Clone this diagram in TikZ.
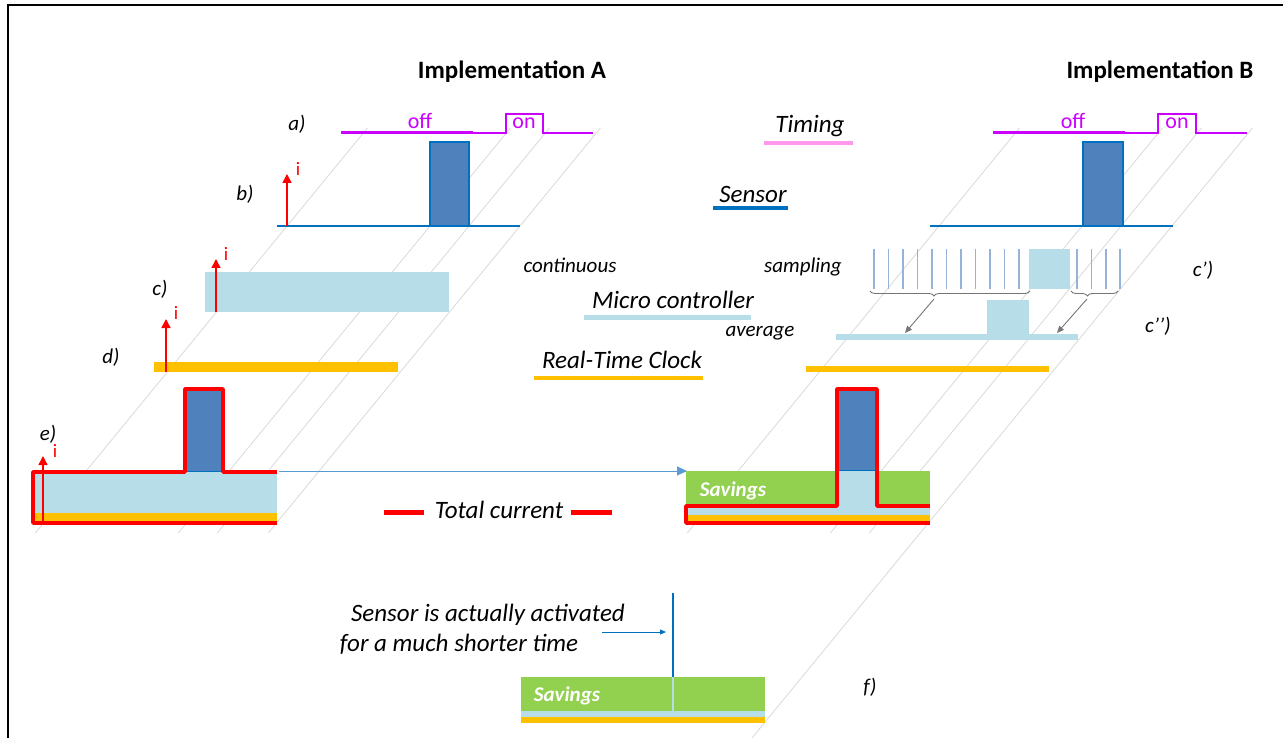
\documentclass[tikz,border=0pt]{standalone}
\usepackage{fontspec}
\setmainfont{Carlito}
\usetikzlibrary{arrows.meta,decorations.pathreplacing}

\definecolor{tmg}{RGB}{204,0,255}
\definecolor{tpink}{RGB}{255,153,238}
\definecolor{sblue}{RGB}{79,129,189}
\definecolor{sedge}{RGB}{0,112,192}
\definecolor{mcu}{RGB}{183,221,232}
\definecolor{rtc}{RGB}{255,192,0}
\definecolor{sav}{RGB}{146,208,80}
\definecolor{guide}{RGB}{217,217,217}
\definecolor{samp}{RGB}{149,179,215}
\definecolor{bracegray}{RGB}{118,118,118}
\definecolor{linkblue}{RGB}{91,155,213}

\tikzset{
  lbl/.style={inner sep=0pt, anchor=mid, yshift=-3pt, font=\fontsize{21}{21}\selectfont\itshape},
  legend/.style={inner sep=0pt, anchor=mid, yshift=-5pt, font=\fontsize{25}{25}\selectfont\itshape},
  head/.style={inner sep=0pt, anchor=mid, yshift=-5pt, font=\fontsize{25}{25}\selectfont\bfseries},
  note/.style={inner sep=0pt, anchor=mid, yshift=-5pt, font=\fontsize{25}{25}\selectfont\itshape},
  stateTxt/.style={inner sep=0pt, anchor=mid, yshift=-3pt, text=tmg, font=\fontsize{22}{22}\selectfont},
  curTxt/.style={inner sep=0pt, anchor=mid, yshift=-2pt, text=red, font=\fontsize{19}{19}\selectfont},
  savTxt/.style={inner sep=0pt, anchor=mid, yshift=-3pt, text=white, font=\fontsize{21}{21}\selectfont\bfseries\itshape},
  guideline/.style={guide, line width=0.8pt},
  curarrow/.style={red, line width=1.5pt, -{Triangle[length=9pt,width=9pt]}},
  redtotal/.style={red, line width=3.5pt, line join=round},
  sampline/.style={samp, line width=1.5pt},
  bracket/.style={bracegray, line width=0.9pt, decorate, decoration={brace, mirror, amplitude=5pt}},
  grayarrow/.style={bracegray, line width=0.9pt, -{Triangle[length=7pt,width=6pt]}},
}

\begin{document}
\begin{tikzpicture}[x=1pt,y=-1pt]
\useasboundingbox (0,0) rectangle (1283,738);

% frame
\draw[line width=2.5pt] (8,740) -- (8,5) -- (1285,5);

% diagonal guide lines of both implementations
\foreach \x in {287,430,469,520} {
  \draw[guideline] (\x+80.4,128) -- (\x-251.7,533);
}
\foreach \x in {939,1082,1121} {
  \draw[guideline] (\x+80.4,128) -- (\x-251.7,533);
}
\draw[guideline] (1252.4,128) -- (752,738);

% headings
\node[head] (hA) at (512,71) {Implementation A};
\node[head] (hB) at (1160,71) {Implementation B};

% ---------- Implementation A ----------
% a) timing
\draw[tmg, line width=3pt] (341,133) -- (473,133);
\draw[tmg, line width=2pt] (473,133) -- (506,133) -- (506,114) -- (543,114) -- (543,133) -- (593,133);
\node[stateTxt] (offA) at (420,123) {off};
\node[stateTxt] (onA) at (524,123) {on};
\node[lbl] (la) at (297,125) {a)};

% b) sensor
\draw[sedge, line width=1.5pt] (277,226) -- (520,226);
\filldraw[fill=sblue, draw=sedge, line width=1.5pt] (430,226) rectangle (469,142);
\coordinate (bA0) at (287,226);
\coordinate (bA1) at (287,174);
\draw[curarrow] (bA0) -- (bA1);
\node[curTxt] (ibA) at (298,171) {i};
\node[lbl] (lb) at (245,195) {b)};

% c) micro controller
\fill[mcu] (205,272) rectangle (449,312);
\coordinate (cA0) at (216,312);
\coordinate (cA1) at (216,259);
\draw[curarrow] (cA0) -- (cA1);
\node[curTxt] (icA) at (226,256) {i};
\node[lbl] (lc) at (160,290) {c)};

% d) real-time clock
\fill[rtc] (154,362) rectangle (398,372);
\coordinate (dA0) at (166,372);
\coordinate (dA1) at (166,319);
\draw[curarrow] (dA0) -- (dA1);
\node[curTxt] (idA) at (176,315) {i};
\node[lbl] (ld) at (111,358) {d)};

% e) total current
\fill[mcu] (33,472) rectangle (277,513);
\fill[rtc] (33,513) rectangle (277,521);
\fill[sblue] (185,389) rectangle (223,472);
\draw[sedge, line width=1pt] (185,471.5) -- (223,471.5);
\draw[redtotal] (277,472) -- (223,472) -- (223,389) -- (185,389) -- (185,472) -- (33,472) -- (33,523) -- (277,523);
\coordinate (eA0) at (43,523);
\coordinate (eA1) at (43,456);
\draw[curarrow, line width=1.3pt] (eA0) -- (eA1);
\node[curTxt] (ieA) at (55,453) {i};
\node[lbl] (le) at (48,435) {e)};

% ---------- legend ----------
\node[legend] (tTiming) at (810,125) {Timing};
\draw[tpink, line width=4pt] (764,143) -- (853,143);
\node[legend] (tSensor) at (753,195) {Sensor};
\draw[sedge, line width=4pt] (713,208) -- (788,208);
\node[legend] (tMicro) at (673,301) {Micro controller};
\draw[mcu, line width=5pt] (584,317) -- (751,317);
\node[legend] (tRTC) at (622,361) {Real-Time Clock};
\draw[rtc, line width=4pt] (534,378) -- (703,378);
\node[legend] (tTotal) at (499,511) {Total current};
\draw[red, line width=5pt] (384,512) -- (424,512);
\draw[red, line width=5pt] (571,512) -- (612,512);

\node[lbl] (tCont) at (570,267) {continuous};
\node[lbl] (tSamp) at (803,267) {sampling};
\node[lbl] (tAvg) at (760,331) {average};

% ---------- Implementation B ----------
% a) timing
\draw[tmg, line width=3pt] (993,133) -- (1125,133);
\draw[tmg, line width=2pt] (1125,133) -- (1158,133) -- (1158,114) -- (1196,114) -- (1196,133) -- (1247,133);
\node[stateTxt] (offB) at (1073,123) {off};
\node[stateTxt] (onB) at (1177,123) {on};

% b) sensor
\draw[sedge, line width=1.5pt] (930,226) -- (1173,226);
\filldraw[fill=sblue, draw=sedge, line width=1.5pt] (1083,226) rectangle (1123,142);

% c') sampled micro controller
\foreach \k in {0,...,10} {
  \draw[sampline] (874+14.5*\k,249) -- (874+14.5*\k,289);
}
\foreach \x in {1077,1091.5,1106,1120} {
  \draw[sampline] (\x,249) -- (\x,289);
}
\fill[mcu] (1029,249) rectangle (1070,289);
\node[lbl] (lcp) at (1203,271) {c’)};

% brackets and averaging arrows
\draw[bracket, decoration={aspect=0.4}] (870,291) -- (1030,291);
\draw[bracket, decoration={aspect=0.35}] (1071,291) -- (1118,291);
\coordinate (br1) at (934,299);
\coordinate (br2) at (1087,299);
\coordinate (av1) at (905,333);
\coordinate (av2) at (1057,333);
\draw[grayarrow] (br1) -- (av1);
\draw[grayarrow] (br2) -- (av2);

% c'') average
\fill[mcu] (836,334) rectangle (1078,340);
\fill[mcu] (987,300) rectangle (1029,340);
\node[lbl] (lcpp) at (1158,327) {c’{}’)};

% d) real-time clock
\fill[rtc] (806,366) rectangle (1049,372);

% e) total current with savings
\fill[sav] (686,471) rectangle (930,506);
\fill[mcu] (686,506) rectangle (930,515);
\fill[rtc] (686,515) rectangle (930,521);
\fill[mcu] (837,471) rectangle (877,506);
\fill[sblue] (837,389) rectangle (877,471);
\draw[sedge, line width=1pt] (837,470.5) -- (877,470.5);
\draw[redtotal] (930,506) -- (877,506) -- (877,389) -- (837,389) -- (837,506) -- (686,506) -- (686,523) -- (930,523);
\node[savTxt] (savB) at (733,491) {Savings};

% link from A to B
\coordinate (linkA) at (279,471);
\coordinate (linkB) at (687,471);
\draw[linkblue, line width=1pt, -{Triangle[length=10pt,width=9pt]}] (linkA) -- (linkB);

% ---------- f) shortened activation ----------
\fill[sav] (521,677) rectangle (765,711);
\fill[mcu] (521,711) rectangle (765,717);
\fill[rtc] (521,717) rectangle (765,723);
\coordinate (act0) at (673,593);
\coordinate (act1) at (673,677);
\coordinate (act2) at (673,711);
\draw[sedge, line width=1.5pt] (act0) -- (act1);
\draw[mcu, line width=1.5pt] (act1) -- (act2);
\node[savTxt] (savF) at (567,696) {Savings};
\node[note] (nt1) at (488,614) {Sensor is actually activated};
\node[note] (nt2) at (459,644) {for a much shorter time};
\coordinate (ar0) at (602,632);
\coordinate (ar1) at (666,632);
\draw[sedge, line width=1pt, -{Triangle[length=6pt,width=5pt]}] (ar0) -- (ar1);
\node[lbl] (lf) at (870,688) {f)};
\end{tikzpicture}
\end{document}
